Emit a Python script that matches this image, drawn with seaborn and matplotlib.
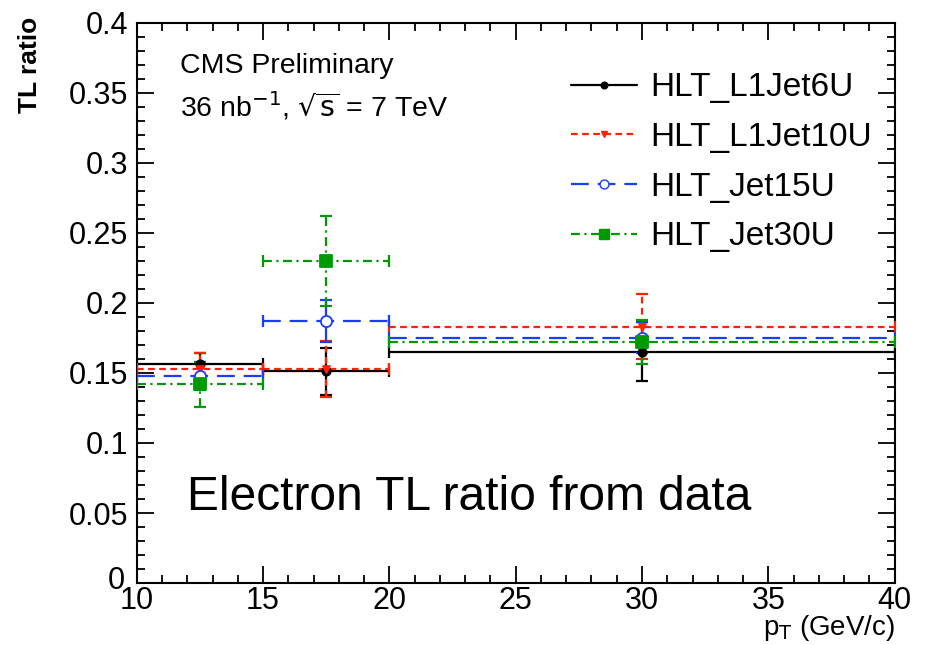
import numpy as np
import pandas as pd
import matplotlib
matplotlib.use("Agg")
import matplotlib.pyplot as plt
import matplotlib.transforms as mtransforms
import seaborn as sns
from matplotlib.ticker import MultipleLocator

# ---- data ----
bin_centers = [12.5, 17.5, 30.0]
bin_halfwidths = [2.5, 2.5, 10.0]
series_names = ["HLT_L1Jet6U", "HLT_L1Jet10U", "HLT_Jet15U", "HLT_Jet30U"]
l1jet6u = [0.156, 0.151, 0.165]
l1jet6u_err = [0.008, 0.017, 0.021]
l1jet10u = [0.153, 0.153, 0.183]
l1jet10u_err = [0.011, 0.020, 0.023]
jet15u = [0.148, 0.187, 0.175]
jet15u_err = [0.010, 0.015, 0.011]
jet30u = [0.142, 0.230, 0.172]
jet30u_err = [0.016, 0.032, 0.016]
y_tick_labels = ["0", "0.05", "0.1", "0.15", "0.2", "0.25", "0.3", "0.35", "0.4"]

values = [l1jet6u, l1jet10u, jet15u, jet30u]
errors = [l1jet6u_err, l1jet10u_err, jet15u_err, jet30u_err]

sns.set_style("ticks")
plt.rcParams["font.family"] = ["Liberation Sans", "DejaVu Sans"]
plt.rcParams["text.color"] = "black"
plt.rcParams["axes.labelcolor"] = "black"
plt.rcParams["xtick.color"] = "black"
plt.rcParams["ytick.color"] = "black"

colors = ["#000000", "#ff2200", "#1a3cff", "#009900"]
styles = ["-", (0, (3, 2)), (0, (8, 4)), (0, (4, 2, 1, 2))]
markers = ["o", "v", "o", "s"]
msizes = [6, 5, 8, 9]
mfaces = ["#000000", "#ff2200", "white", "#009900"]

fig = plt.figure(figsize=(9.3, 6.45), dpi=100)
ax = fig.add_axes([0.147, 0.096, 0.815, 0.869])

rows = []
for name, v in zip(series_names, values):
    for x, y in zip(bin_centers, v):
        rows.append({"pT": x, "ratio": y, "trigger": name})
df = pd.DataFrame(rows)

handles = []
for i, (name, v, e) in enumerate(zip(series_names, values, errors)):
    h = ax.errorbar(bin_centers, v, xerr=bin_halfwidths, yerr=e, fmt="none",
                    ecolor=colors[i], elinewidth=1.6, capsize=4, capthick=1.6,
                    zorder=2 + i)
    for lc in h[2]:
        lc.set_linestyle(styles[i])
    sub = df[df["trigger"] == name]
    sns.scatterplot(data=sub, x="pT", y="ratio", ax=ax, marker=markers[i],
                    s=msizes[i] ** 2, color=mfaces[i], edgecolor=colors[i],
                    linewidth=1.3, zorder=10 + i, legend=False)
    proxy = plt.Line2D([], [], color=colors[i], linestyle=styles[i], linewidth=1.6,
                       marker=markers[i], markersize=msizes[i] * 0.8,
                       markerfacecolor=mfaces[i], markeredgecolor=colors[i])
    handles.append(proxy)

ax.set_xlim(10, 40)
ax.set_ylim(0, 0.4)
ax.xaxis.set_major_locator(MultipleLocator(5))
ax.xaxis.set_minor_locator(MultipleLocator(1))
ax.yaxis.set_minor_locator(MultipleLocator(0.01))
ax.set_yticks(np.arange(0, 0.401, 0.05))
ax.set_yticklabels(y_tick_labels)
ax.tick_params(which="both", direction="in", top=True, right=True, labelsize=22,
               width=1.3, colors="black")
ax.tick_params(which="major", length=12)
ax.tick_params(which="minor", length=6)
ax.tick_params(axis="x", pad=2)
ax.tick_params(axis="y", pad=6)
for s in ax.spines.values():
    s.set_linewidth(1.5)
    s.set_color("black")

# nudge the corner labels apart slightly (as in the reference they nearly touch)
zero_lbl = ax.get_yticklabels()[0]
zero_lbl.set_transform(zero_lbl.get_transform() +
                       mtransforms.ScaledTranslation(-4 / 100, 6 / 100, fig.dpi_scale_trans))
ten_lbl = ax.get_xticklabels()[0]
ten_lbl.set_transform(ten_lbl.get_transform() +
                      mtransforms.ScaledTranslation(6 / 100, 0, fig.dpi_scale_trans))

ax.set_xlabel("p$_\\mathrm{T}$ (GeV/c)", fontsize=20, loc="right", labelpad=-2)
ax.set_ylabel("TL ratio", fontsize=19, fontweight="bold", loc="top", labelpad=12)
ax.yaxis.set_label_coords(-0.125, 1.01)

ax.text(0.057, 0.945, "CMS Preliminary", transform=ax.transAxes, fontsize=20.5,
        va="top", ha="left")
ax.text(0.057, 0.88, "36 nb$^{-1}$, $\\sqrt{\\mathrm{s}}$ = 7 TeV", transform=ax.transAxes,
        fontsize=20.5, va="top", ha="left")
ax.text(0.066, 0.152, "Electron TL ratio from data", transform=ax.transAxes,
        fontsize=34.5, va="center", ha="left")

ax.legend(handles, series_names, loc="upper right", bbox_to_anchor=(1.01, 0.965),
          frameon=False, fontsize=24, handlelength=2.0, handletextpad=0.4,
          labelspacing=0.56)

fig.savefig("out.png", dpi=100)
